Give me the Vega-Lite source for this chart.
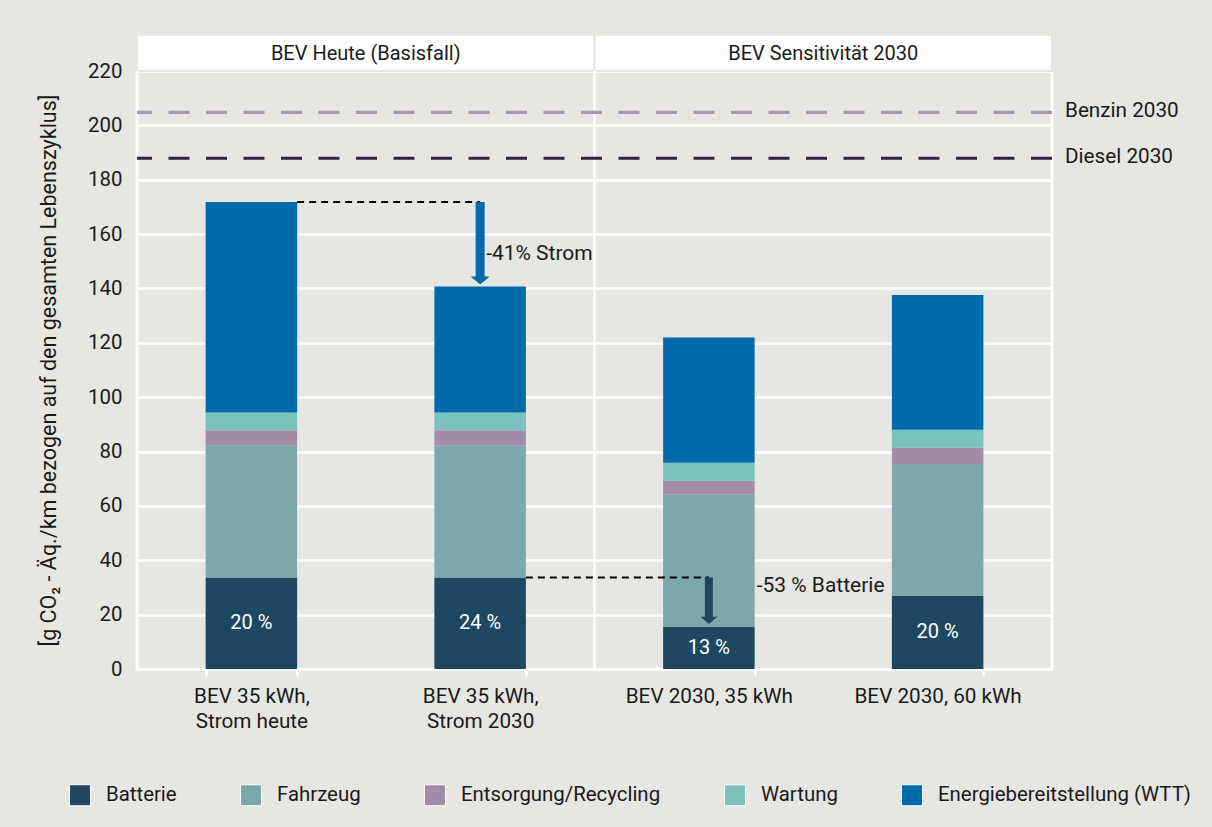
{
  "$schema": "https://vega.github.io/schema/vega-lite/v6.json",
  "width": 915,
  "height": 598,
  "autosize": {"type": "none"},
  "padding": {"left": 137, "top": 71, "right": 160, "bottom": 158},
  "background": "#e6e6e2",
  "config": {
    "font": "Roboto",
    "view": {"fill": "#e6e6e2", "stroke": "#ffffff", "strokeWidth": 2.5},
    "text": {"font": "Roboto"},
    "legend": {
      "orient": "none",
      "legendX": -68,
      "legendY": 713,
      "direction": "horizontal",
      "columns": 5,
      "symbolType": "square",
      "symbolSize": 441,
      "symbolStrokeColor": "#ffffff",
      "symbolStrokeWidth": 1,
      "symbolOpacity": 1,
      "labelFont": "Roboto",
      "labelFontSize": 20.4,
      "labelColor": "#1a1a1a",
      "labelOffset": 15,
      "labelLimit": 0,
      "columnPadding": 61,
      "padding": 0
    }
  },
  "datasets": {
    "gruppen": [
      {"gruppe": "BEV Heute (Basisfall)"},
      {"gruppe": "BEV Sensitivität 2030"}
    ],
    "balken": [
      {"fahrzeug": "BEV 35 kWh, Strom heute", "bereich": "Batterie", "nr": 1, "wert": 33.7},
      {"fahrzeug": "BEV 35 kWh, Strom heute", "bereich": "Fahrzeug", "nr": 2, "wert": 48.6},
      {"fahrzeug": "BEV 35 kWh, Strom heute", "bereich": "Entsorgung/Recycling", "nr": 3, "wert": 5.5},
      {"fahrzeug": "BEV 35 kWh, Strom heute", "bereich": "Wartung", "nr": 4, "wert": 6.6},
      {"fahrzeug": "BEV 35 kWh, Strom heute", "bereich": "Energiebereitstellung (WTT)", "nr": 5, "wert": 77.4},
      {"fahrzeug": "BEV 35 kWh, Strom 2030", "bereich": "Batterie", "nr": 1, "wert": 33.7},
      {"fahrzeug": "BEV 35 kWh, Strom 2030", "bereich": "Fahrzeug", "nr": 2, "wert": 48.6},
      {"fahrzeug": "BEV 35 kWh, Strom 2030", "bereich": "Entsorgung/Recycling", "nr": 3, "wert": 5.5},
      {"fahrzeug": "BEV 35 kWh, Strom 2030", "bereich": "Wartung", "nr": 4, "wert": 6.6},
      {"fahrzeug": "BEV 35 kWh, Strom 2030", "bereich": "Energiebereitstellung (WTT)", "nr": 5, "wert": 46.3},
      {"fahrzeug": "BEV 2030, 35 kWh", "bereich": "Batterie", "nr": 1, "wert": 15.6},
      {"fahrzeug": "BEV 2030, 35 kWh", "bereich": "Fahrzeug", "nr": 2, "wert": 48.5},
      {"fahrzeug": "BEV 2030, 35 kWh", "bereich": "Entsorgung/Recycling", "nr": 3, "wert": 5.2},
      {"fahrzeug": "BEV 2030, 35 kWh", "bereich": "Wartung", "nr": 4, "wert": 6.6},
      {"fahrzeug": "BEV 2030, 35 kWh", "bereich": "Energiebereitstellung (WTT)", "nr": 5, "wert": 46.1},
      {"fahrzeug": "BEV 2030, 60 kWh", "bereich": "Batterie", "nr": 1, "wert": 26.9},
      {"fahrzeug": "BEV 2030, 60 kWh", "bereich": "Fahrzeug", "nr": 2, "wert": 48.5},
      {"fahrzeug": "BEV 2030, 60 kWh", "bereich": "Entsorgung/Recycling", "nr": 3, "wert": 6.0},
      {"fahrzeug": "BEV 2030, 60 kWh", "bereich": "Wartung", "nr": 4, "wert": 6.6},
      {"fahrzeug": "BEV 2030, 60 kWh", "bereich": "Energiebereitstellung (WTT)", "nr": 5, "wert": 49.6}
    ],
    "anteile": [
      {"fahrzeug": "BEV 35 kWh, Strom heute", "batterie": 33.7, "anteil": "20 %"},
      {"fahrzeug": "BEV 35 kWh, Strom 2030", "batterie": 33.7, "anteil": "24 %"},
      {"fahrzeug": "BEV 2030, 35 kWh", "batterie": 15.6, "anteil": "13 %"},
      {"fahrzeug": "BEV 2030, 60 kWh", "batterie": 26.9, "anteil": "20 %"}
    ],
    "referenzen": [
      {"name": "Benzin 2030", "wert": 204.8},
      {"name": "Diesel 2030", "wert": 187.9}
    ],
    "hinweise": [
      {"von": "BEV 35 kWh, Strom heute", "nach": "BEV 35 kWh, Strom 2030", "start": 171.8, "ende": 141.5, "text": "-41% Strom"},
      {"von": "BEV 35 kWh, Strom 2030", "nach": "BEV 2030, 35 kWh", "start": 33.7, "ende": 16.6, "text": "-53 % Batterie"}
    ]
  },
  "layer": [
    {
      "data": {"name": "gruppen"},
      "layer": [
        {
          "mark": {"type": "rect", "fill": "#ffffff", "stroke": "#e6e6e2", "strokeWidth": 2},
          "encoding": {
            "x": {"field": "gruppe", "type": "nominal", "scale": {"domain": ["BEV Heute (Basisfall)", "BEV Sensitivität 2030"], "paddingInner": 0, "paddingOuter": 0}, "axis": null},
            "y": {"datum": 220},
            "y2": {"datum": 233.3}
          }
        },
        {
          "mark": {"type": "rule", "color": "#ffffff", "strokeWidth": 2.5},
          "encoding": {
            "x": {"field": "gruppe", "type": "nominal", "bandPosition": 0, "axis": null}
          }
        },
        {
          "mark": {"type": "text", "fontSize": 20, "color": "#1a1a1a", "baseline": "middle"},
          "encoding": {
            "x": {"field": "gruppe", "type": "nominal", "axis": null},
            "y": {"datum": 226.1},
            "text": {"field": "gruppe"}
          }
        }
      ]
    },
    {
      "layer": [
        {
          "data": {"name": "balken"},
          "mark": {"type": "bar"},
          "encoding": {
            "x": {
              "field": "fahrzeug",
              "type": "nominal",
              "sort": null,
              "scale": {"domain": ["BEV 35 kWh, Strom heute", "BEV 35 kWh, Strom 2030", "BEV 2030, 35 kWh", "BEV 2030, 60 kWh"], "paddingInner": 0.6, "paddingOuter": 0.3},
              "axis": {
                "title": null,
                "labelAngle": 0,
                "domain": false,
                "ticks": true,
                "tickBand": "extent",
                "tickColor": "#ffffff",
                "tickWidth": 2.5,
                "tickSize": 7,
                "labelPadding": 10,
                "labelFont": "Roboto",
                "labelFontSize": 20.7,
                "labelColor": "#1a1a1a",
                "labelLineHeight": 25,
                "labelExpr": "indexof(datum.label, 'Strom') > 0 ? [slice(datum.label, 0, 11), slice(datum.label, 12)] : datum.label"
              }
            },
            "y": {
              "field": "wert",
              "type": "quantitative",
              "stack": "zero",
              "scale": {"domain": [0, 220], "nice": false},
              "axis": {
                "title": "[g CO₂ - Äq./km bezogen auf den gesamten Lebenszyklus]",
                "values": [0, 20, 40, 60, 80, 100, 120, 140, 160, 180, 200, 220],
                "grid": true,
                "gridColor": "#ffffff",
                "gridWidth": 2.5,
                "domain": false,
                "ticks": false,
                "labelPadding": 15,
                "labelFont": "Roboto",
                "labelFontSize": 20.4,
                "labelColor": "#1a1a1a",
                "titleFont": "Roboto",
                "titleFontSize": 21.5,
                "titleFontWeight": "normal",
                "titleColor": "#1a1a1a",
                "titlePadding": 27
              }
            },
            "color": {
              "field": "bereich",
              "type": "nominal",
              "scale": {
                "domain": ["Batterie", "Fahrzeug", "Entsorgung/Recycling", "Wartung", "Energiebereitstellung (WTT)"],
                "range": ["#1e4861", "#7ca8ab", "#a28ca8", "#7bc1bd", "#006aab"]
              },
              "legend": {"title": null}
            },
            "order": {"field": "nr", "type": "quantitative", "sort": "ascending"}
          }
        },
        {
          "data": {"name": "anteile"},
          "transform": [{"calculate": "datum.batterie / 2", "as": "mitte"}],
          "mark": {"type": "text", "color": "#ffffff", "fontSize": 20, "baseline": "middle"},
          "encoding": {
            "x": {"field": "fahrzeug", "type": "nominal"},
            "y": {"field": "mitte", "type": "quantitative"},
            "text": {"field": "anteil"}
          }
        },
        {
          "data": {"name": "referenzen"},
          "mark": {"type": "rule", "strokeWidth": 3.2, "strokeDash": [21, 16.5]},
          "encoding": {
            "y": {"field": "wert", "type": "quantitative"},
            "stroke": {
              "field": "name",
              "type": "nominal",
              "scale": {"domain": ["Benzin 2030", "Diesel 2030"], "range": ["#a994b2", "#34233f"]},
              "legend": null
            }
          }
        },
        {
          "data": {"name": "referenzen"},
          "mark": {"type": "text", "align": "left", "baseline": "middle", "dx": 13, "dy": -1, "fontSize": 20.7, "color": "#1a1a1a"},
          "encoding": {
            "x": {"value": "width"},
            "y": {"field": "wert", "type": "quantitative"},
            "text": {"field": "name"}
          }
        },
        {
          "data": {"name": "hinweise"},
          "mark": {"type": "rule", "color": "#000000", "strokeWidth": 2, "strokeDash": [7, 5]},
          "encoding": {
            "x": {"field": "von", "type": "nominal", "bandPosition": 1},
            "x2": {"field": "nach", "bandPosition": 0.5},
            "y": {"field": "start", "type": "quantitative"}
          }
        },
        {
          "data": {"name": "hinweise"},
          "transform": [{"filter": "datum.text == '-41% Strom'"}],
          "layer": [
            {
              "mark": {"type": "rule", "color": "#006aab", "strokeWidth": 9, "y2Offset": -7},
              "encoding": {
                "x": {"field": "nach", "type": "nominal"},
                "y": {"field": "start", "type": "quantitative"},
                "y2": {"field": "ende"}
              }
            },
            {
              "mark": {"type": "point", "shape": "M-1,-0.84L1,-0.84L0,0Z", "size": 361, "filled": true, "color": "#006aab", "opacity": 1, "strokeWidth": 0},
              "encoding": {
                "x": {"field": "nach", "type": "nominal"},
                "y": {"field": "ende", "type": "quantitative"}
              }
            },
            {
              "mark": {"type": "text", "align": "left", "baseline": "middle", "dx": 6, "dy": -30, "fontSize": 21, "color": "#1a1a1a"},
              "encoding": {
                "x": {"field": "nach", "type": "nominal"},
                "y": {"field": "ende", "type": "quantitative"},
                "text": {"field": "text"}
              }
            }
          ]
        },
        {
          "data": {"name": "hinweise"},
          "transform": [{"filter": "datum.text == '-53 % Batterie'"}],
          "layer": [
            {
              "mark": {"type": "rule", "color": "#1e4861", "strokeWidth": 8, "y2Offset": -6},
              "encoding": {
                "x": {"field": "nach", "type": "nominal"},
                "y": {"field": "start", "type": "quantitative"},
                "y2": {"field": "ende"}
              }
            },
            {
              "mark": {"type": "point", "shape": "M-1,-0.84L1,-0.84L0,0Z", "size": 289, "filled": true, "color": "#1e4861", "opacity": 1, "strokeWidth": 0},
              "encoding": {
                "x": {"field": "nach", "type": "nominal"},
                "y": {"field": "ende", "type": "quantitative"}
              }
            },
            {
              "mark": {"type": "text", "align": "left", "baseline": "middle", "dx": 2, "dy": 9, "fontSize": 21, "color": "#1a1a1a"},
              "encoding": {
                "x": {"field": "nach", "type": "nominal", "bandPosition": 1},
                "y": {"field": "start", "type": "quantitative"},
                "text": {"field": "text"}
              }
            }
          ]
        }
      ]
    }
  ],
  "resolve": {"scale": {"x": "independent"}}
}
